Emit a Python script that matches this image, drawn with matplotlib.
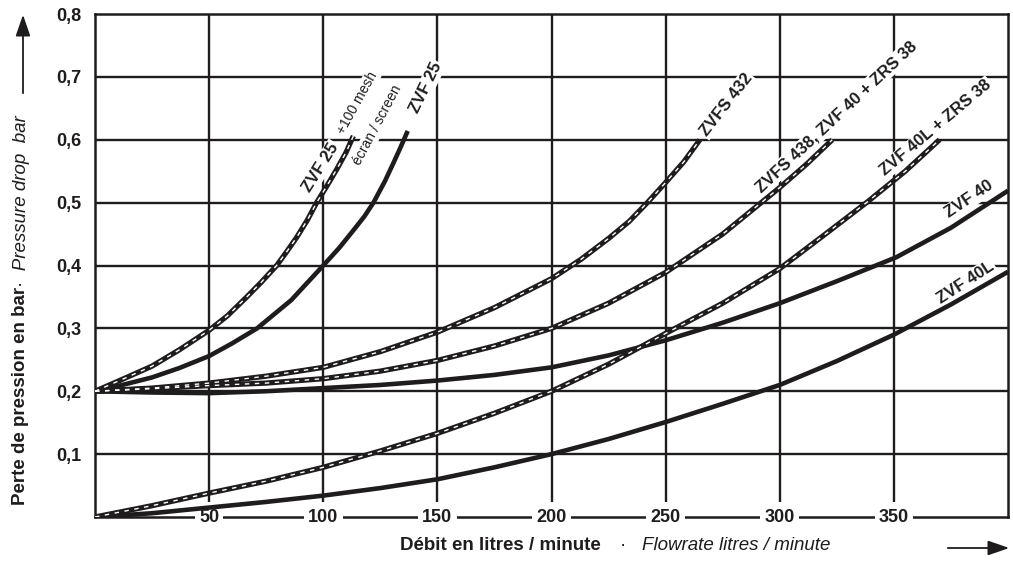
import matplotlib
matplotlib.use("Agg")
import matplotlib.pyplot as plt
from matplotlib.patches import FancyArrowPatch

plt.rcParams['font.family'] = ['Liberation Sans', 'DejaVu Sans']

# Flow (l/min) vs pressure drop (bar)
zvf25_mesh_x = [0, 12, 25, 37, 50, 58, 66.5, 73, 79.6, 84, 88.4, 93, 97.1, 101.5, 105.9, 110, 113.2]
zvf25_mesh_y = [0.2, 0.219, 0.24, 0.266, 0.297, 0.32, 0.35, 0.374, 0.40, 0.422, 0.445, 0.472, 0.50, 0.526, 0.553, 0.58, 0.606]

zvf25_x = [0, 12, 25, 37, 50, 60, 71, 86, 100, 107, 113, 118, 122, 127, 131, 134, 137]
zvf25_y = [0.2, 0.21, 0.222, 0.237, 0.256, 0.276, 0.30, 0.345, 0.40, 0.428, 0.455, 0.478, 0.50, 0.534, 0.565, 0.589, 0.614]

zvfs432_x = [0, 25, 50, 75, 100, 125, 150, 175, 200, 213, 225, 234, 242, 250, 258, 265]
zvfs432_y = [0.2, 0.205, 0.213, 0.224, 0.238, 0.263, 0.294, 0.333, 0.379, 0.41, 0.443, 0.47, 0.50, 0.532, 0.565, 0.60]

zvfs438_x = [0, 25, 50, 75, 100, 125, 150, 175, 200, 225, 250, 275, 300, 312, 323]
zvfs438_y = [0.2, 0.204, 0.209, 0.213, 0.22, 0.232, 0.249, 0.272, 0.30, 0.34, 0.389, 0.45, 0.524, 0.562, 0.60]

zvf40l_zrs_x = [0, 25, 50, 75, 100, 125, 150, 175, 200, 225, 250, 275, 300, 320, 338, 355, 370]
zvf40l_zrs_y = [0.0, 0.018, 0.038, 0.057, 0.079, 0.105, 0.133, 0.165, 0.20, 0.243, 0.292, 0.34, 0.395, 0.45, 0.50, 0.55, 0.60]

zvf40_x = [0, 25, 50, 75, 100, 125, 150, 175, 200, 225, 250, 275, 300, 325, 351, 375, 400]
zvf40_y = [0.2, 0.198, 0.197, 0.2, 0.205, 0.21, 0.217, 0.226, 0.238, 0.257, 0.281, 0.309, 0.34, 0.375, 0.413, 0.46, 0.519]

zvf40l_x = [0, 25, 50, 75, 100, 125, 150, 175, 200, 225, 250, 275, 300, 325, 350, 375, 400]
zvf40l_y = [0.0, 0.006, 0.015, 0.024, 0.034, 0.046, 0.06, 0.079, 0.10, 0.124, 0.151, 0.18, 0.21, 0.248, 0.29, 0.338, 0.39]

x_ticks = [50, 100, 150, 200, 250, 300, 350]
y_ticks = [0.1, 0.2, 0.3, 0.4, 0.5, 0.6, 0.7, 0.8]
y_tick_labels = ["0,1", "0,2", "0,3", "0,4", "0,5", "0,6", "0,7", "0,8"]

W, H = 1013, 562
fig = plt.figure(figsize=(W / 100, H / 100), dpi=100)
ax = fig.add_axes([95 / W, 1 - 517 / H, 913 / W, 503 / H])
ax.set_xlim(0, 400)
ax.set_ylim(0, 0.8)

ink = '#1e1c1c'

# grid: horizontal lines full width, vertical lines stop short of the bottom axis
ax.hlines(y_ticks[:-1], 0, 400, color=ink, lw=1.7, zorder=1)
ax.vlines(x_ticks, 0.024, 0.8, color=ink, lw=1.7, zorder=1)
for s in ax.spines.values():
    s.set_color(ink)
    s.set_linewidth(1.8)


def solid(x, y):
    ax.plot(x, y, color=ink, lw=3.3, solid_capstyle='butt', solid_joinstyle='round', zorder=3)


def dashed(x, y):
    # black line with a thin broken white core
    ax.plot(x, y, color=ink, lw=3.8, solid_capstyle='butt', solid_joinstyle='round', zorder=3)
    ax.plot(x, y, color='white', lw=1.0, linestyle=(0, (3.2, 4.0)), zorder=4)


dashed(zvf25_mesh_x, zvf25_mesh_y)
solid(zvf25_x, zvf25_y)
dashed(zvfs432_x, zvfs432_y)
dashed(zvfs438_x, zvfs438_y)
dashed(zvf40l_zrs_x, zvf40l_zrs_y)
solid(zvf40_x, zvf40_y)
solid(zvf40l_x, zvf40l_y)

# curve labels (white boxes cut the grid, curves stay on top)
box = dict(facecolor='white', edgecolor='none', pad=1.0)
lab = dict(ha='center', va='center', rotation_mode='anchor', color=ink, bbox=box, zorder=2.8)
ax.text(145, 0.683, "ZVF 25", fontsize=12, fontweight='bold', rotation=64, **lab)
ax.text(99.0, 0.556, "ZVF 25", fontsize=12, fontweight='bold', rotation=58, **lab)
ax.text(114.8, 0.658, "+100 mesh", fontsize=10, rotation=61, **lab)
ax.text(123.8, 0.624, "écran / screen", fontsize=10, rotation=62, **lab)
ax.text(276.5, 0.656, "ZVFS 432", fontsize=12, fontweight='bold', rotation=52, **lab)
ax.text(325, 0.637, "ZVFS 438, ZVF 40 + ZRS 38", fontsize=12, fontweight='bold', rotation=43, **lab)
ax.text(368.5, 0.619, "ZVF 40L + ZRS 38", fontsize=12, fontweight='bold', rotation=40, **lab)
ax.text(383, 0.505, "ZVF 40", fontsize=12, fontweight='bold', rotation=34, **lab)
ax.text(381.5, 0.373, "ZVF 40L", fontsize=12, fontweight='bold', rotation=33, **lab)

# x tick labels sit on the bottom axis line
ax.set_xticks([])
for v in x_ticks:
    ax.text(v, 0, str(v), ha='center', va='center', fontsize=13, fontweight='bold',
            color=ink, clip_on=False, zorder=2.6,
            bbox=dict(facecolor='white', edgecolor='none', pad=3))

ax.set_yticks(y_ticks)
ax.set_yticklabels(y_tick_labels, fontsize=13, fontweight='bold', color=ink)
ax.tick_params(axis='y', length=0, pad=10)


def fx(px):
    return px / W


def fy(py):
    return 1 - py / H


# axis titles
fig.text(fx(500), fy(546), "Débit en litres / minute", ha='center', va='center',
         fontsize=13.5, fontweight='bold', color=ink)
fig.text(fx(623), fy(546), "·", ha='center', va='center', fontsize=13.5, color=ink)
fig.text(fx(736), fy(546), "Flowrate litres / minute", ha='center', va='center',
         fontsize=13.5, style='italic', color=ink)

fig.text(fx(21), fy(505), "Perte de pression en bar", ha='center', va='bottom',
         rotation=90, fontsize=13.5, fontweight='bold', color=ink)
fig.text(fx(22), fy(115), "·  Pressure drop  bar", ha='center', va='top',
         rotation=90, fontsize=13.5, style='italic', color=ink)

for start, end in [((23, 96), (23, 12)), ((945, 548), (1012, 548))]:
    fig.add_artist(FancyArrowPatch(
        (fx(start[0]), fy(start[1])), (fx(end[0]), fy(end[1])), transform=fig.transFigure,
        arrowstyle='-|>,head_width=4.5,head_length=13', color=ink, lw=1.3, mutation_scale=1))

fig.savefig("out.png", dpi=100)
